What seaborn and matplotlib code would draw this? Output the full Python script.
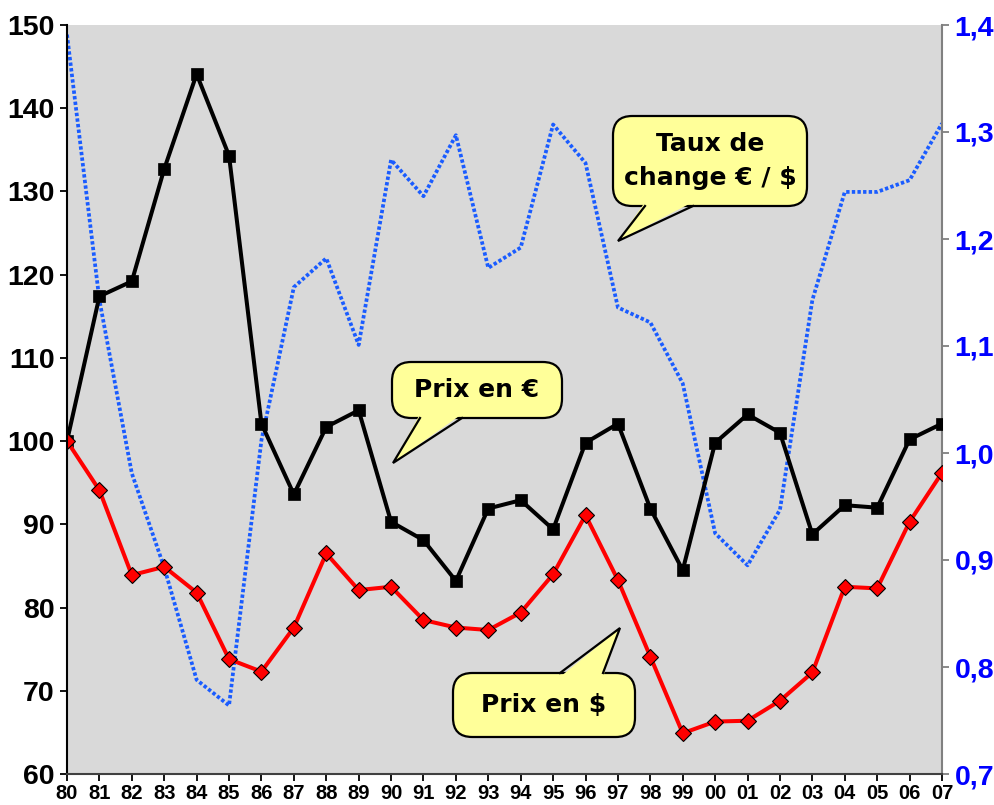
import numpy as np
import pandas as pd
import matplotlib
matplotlib.use("Agg")
import matplotlib.pyplot as plt
from matplotlib.patches import FancyBboxPatch, Polygon
from matplotlib.lines import Line2D
import seaborn as sns

# ---- data ----
annees = ['80', '81', '82', '83', '84', '85', '86', '87', '88', '89',
          '90', '91', '92', '93', '94', '95', '96', '97', '98', '99',
          '00', '01', '02', '03', '04', '05', '06', '07']
prix_eur = [100.0, 117.4, 119.2, 132.7, 144.1, 134.3, 102.1, 93.6, 101.7, 103.7,
            90.3, 88.1, 83.2, 91.9, 92.9, 89.4, 99.8, 102.1, 91.9, 84.5,
            99.8, 103.2, 101.0, 88.8, 92.3, 92.0, 100.2, 102.1]
prix_usd = [100.0, 94.1, 83.9, 84.9, 81.8, 73.8, 72.3, 77.6, 86.5, 82.1,
            82.5, 78.5, 77.6, 77.3, 79.4, 84.0, 91.1, 83.3, 74.1, 64.9,
            66.3, 66.4, 68.8, 72.2, 82.5, 82.3, 90.3, 96.2]
taux_change = [1.391, 1.143, 0.981, 0.893, 0.788, 0.764, 1.012, 1.155, 1.182, 1.101,
               1.274, 1.240, 1.297, 1.173, 1.192, 1.307, 1.271, 1.136, 1.122, 1.065,
               0.925, 0.895, 0.947, 1.143, 1.244, 1.244, 1.255, 1.308]
gauche_ticks = [60, 70, 80, 90, 100, 110, 120, 130, 140, 150]
droite_ticks = [0.7, 0.8, 0.9, 1.0, 1.1, 1.2, 1.3, 1.4]

df = pd.DataFrame({
    "pos": np.arange(len(annees)),
    "annee": annees,
    "prix_eur": prix_eur,
    "prix_usd": prix_usd,
    "taux": taux_change,
})

plt.rcParams["font.family"] = ["Liberation Sans", "DejaVu Sans"]
plt.rcParams["font.weight"] = "bold"

W, H = 994, 805
fig = plt.figure(figsize=(W / 100, H / 100), dpi=100)
fig.patch.set_facecolor("white")
L, R, T, B = 67, 942, 25, 774
ax = fig.add_axes([L / W, 1 - B / H, (R - L) / W, (B - T) / H])
ax2 = ax.twinx()
ax.set_zorder(ax2.get_zorder() + 1)
ax.patch.set_visible(False)
ax2.patch.set_visible(True)
ax2.patch.set_facecolor("#d9d9d9")

# exchange rate (right axis)
sns.lineplot(data=df, x="pos", y="taux", ax=ax2, color="#1a5cff", lw=2.7,
             linestyle=(0, (0.9, 0.6)), dash_capstyle="butt")

# prices (left axis)
sns.lineplot(data=df, x="pos", y="prix_eur", ax=ax, color="black", lw=2.9,
             marker="s", markersize=9, markerfacecolor="black",
             markeredgecolor="black", markeredgewidth=0.5)
sns.lineplot(data=df, x="pos", y="prix_usd", ax=ax, color="#ff0000", lw=2.9,
             marker="D", markersize=8.6, markerfacecolor="#ff0000",
             markeredgecolor="black", markeredgewidth=0.8)

ax.set_xlim(0, len(annees) - 1)
ax.set_ylim(60, 150)
ax2.set_ylim(0.7, 1.4)
ax.set_xticks(df["pos"])
ax.set_xticklabels(annees)
ax.set_yticks(gauche_ticks)
ax.set_yticklabels([str(v) for v in gauche_ticks])
ax2.set_yticks(droite_ticks)
ax2.set_yticklabels([f"{v:.1f}".replace(".", ",") for v in droite_ticks])
for a in (ax, ax2):
    a.set_xlabel("")
    a.set_ylabel("")
    a.grid(False)

ax.tick_params(axis="y", direction="out", length=5, width=1.3, labelsize=20.5,
               pad=4, colors="black")
ax.tick_params(axis="x", direction="out", length=5, width=1.3, labelsize=14.5,
               pad=2, colors="black")
ax2.tick_params(axis="y", direction="out", length=5, width=1.3, labelsize=20.5,
                pad=4, colors="#808080", labelcolor="#0000ff")

ax.spines["top"].set_visible(False)
ax.spines["right"].set_visible(False)
ax.spines["left"].set_linewidth(1.5)
ax.spines["bottom"].set_linewidth(1.5)
ax.spines["bottom"].set_color("#404040")
for s in ("top", "left", "bottom"):
    ax2.spines[s].set_visible(False)
ax2.spines["right"].set_color("#808080")
ax2.spines["right"].set_linewidth(1.5)


# ---- callouts (speech bubbles), placed in axes fraction from pixel layout ----
def fx(px):
    return (px - L) / (R - L)


def fy(py):
    return (B - py) / (B - T)


JAUNE = "#ffff99"


def bulle(texte, box, base, tip):
    x0, y0, x1, y1 = box  # pixel box (left, top, right, bottom)
    bx0, bx1, by = base   # tail base on the box edge (pixels)
    tx, ty = tip
    inside = 4 if by >= y1 - 1 else -4
    patch = FancyBboxPatch((fx(x0), fy(y1)), fx(x1) - fx(x0), fy(y0) - fy(y1),
                           boxstyle="round,pad=0,rounding_size=0.022",
                           mutation_aspect=(R - L) / (B - T),
                           transform=ax.transAxes, fc=JAUNE, ec="black",
                           lw=1.6, zorder=20, clip_on=False)
    ax.add_patch(patch)
    tail = Polygon([(fx(bx0), fy(by - inside)), (fx(tx), fy(ty)),
                    (fx(bx1), fy(by - inside))], closed=True,
                   transform=ax.transAxes, fc=JAUNE, ec="none", zorder=21,
                   clip_on=False)
    ax.add_patch(tail)
    ax.add_line(Line2D([fx(bx0), fx(tx), fx(bx1)], [fy(by), fy(ty), fy(by)],
                       transform=ax.transAxes, color="black", lw=1.6,
                       solid_joinstyle="miter", zorder=22, clip_on=False))
    ax.text(fx((x0 + x1) / 2), fy((y0 + y1) / 2), texte, transform=ax.transAxes,
            ha="center", va="center", fontsize=18, fontweight="bold",
            family="DejaVu Sans", linespacing=1.55, zorder=23)


bulle("Prix en €", (392, 362, 562, 418), (420, 462, 418), (393, 463))
bulle("Prix en $", (453, 673, 635, 737), (560, 603, 673), (620, 628))
bulle("Taux de\nchange € / $", (613, 116, 807, 206), (645, 693, 206), (618, 241))

fig.savefig("out.png", dpi=100)
